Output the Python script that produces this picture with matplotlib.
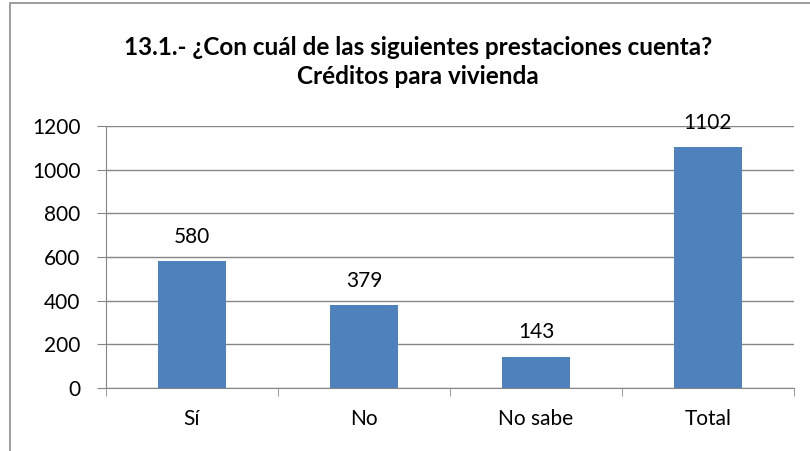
import matplotlib.pyplot as plt
import matplotlib.patches as mpatches
import numpy as np

categories = ["Sí", "No", "No sabe", "Total"]
values = [580, 379, 143, 1102]
title = "13.1.- ¿Con cuál de las siguientes prestaciones cuenta?\nCréditos para vivienda"

plt.rcParams["font.family"] = ["Lato", "DejaVu Sans"]

fig = plt.figure(figsize=(8.1, 4.51), dpi=100)
# outer chart frame, only left and top edges fall inside the image
fig.patches.append(mpatches.Rectangle((10 / 810, -0.1), 1.2, 1 - 3 / 451 + 0.1,
                                      transform=fig.transFigure, fill=False,
                                      edgecolor="#8c8c8c", linewidth=1.2))
ax = fig.add_axes([106 / 810, 1 - 388 / 451, 688 / 810, 262 / 451])

x = np.arange(len(categories))
ax.bar(x, values, width=0.39, color="#4f81bd", zorder=3)
for xi, v in zip(x, values):
    ax.text(xi, v + 85, str(v), ha="center", va="baseline", fontsize=15, zorder=4)

ax.set_xlim(-0.5, len(categories) - 0.5)
ax.set_ylim(0, 1200)
ax.set_yticks(range(0, 1201, 200))
ax.yaxis.grid(True, color="#868686", linewidth=1, zorder=0)
ax.set_xticks(x)
ax.set_xticklabels(categories, fontsize=15)
ax.set_xticks(np.arange(-0.5, len(categories)), minor=True)
ax.tick_params(axis="x", which="major", length=0, pad=15)
ax.tick_params(axis="x", which="minor", length=6, color="#868686", direction="out")
ax.tick_params(axis="y", length=6.5, color="#868686", labelsize=15, pad=12)
for s in ["top", "right"]:
    ax.spines[s].set_visible(False)
for s in ["left", "bottom"]:
    ax.spines[s].set_color("#868686")
ax.set_clip_on(False)

fig.text(418 / 810, 1 - 62 / 451, title, ha="center", va="center",
         fontsize=17.5, fontweight="bold", linespacing=1.3)

fig.savefig("out.png", dpi=100)
